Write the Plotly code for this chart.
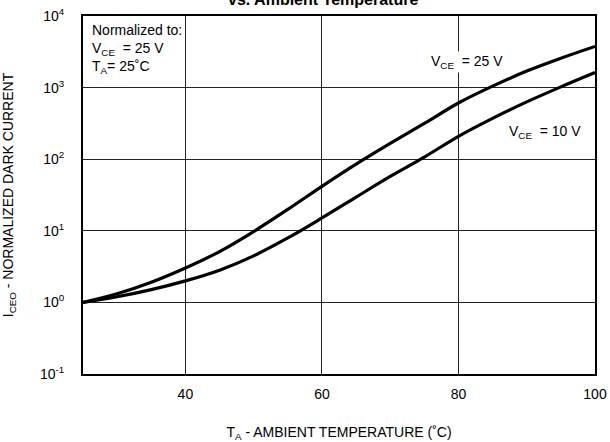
import plotly.graph_objects as go

temps = [25, 30, 35, 40, 45, 50, 55, 60, 65, 70, 75, 80, 85, 90, 95, 100]
iceo_25v = [1, 1.32, 1.91, 3.02, 5.13, 9.77, 19.9, 41.7, 85.1, 166, 316, 610, 1047, 1700, 2570, 3760]
iceo_10v = [1, 1.20, 1.51, 2.0, 2.82, 4.47, 7.94, 15.1, 29.5, 57.5, 107, 209, 372, 631, 1023, 1622]

y_tickvals = [0.1, 1, 10, 100, 1000, 10000]
y_ticktext = ["10<sup>-1</sup>", "10<sup>0</sup>", "10<sup>1</sup>", "10<sup>2</sup>", "10<sup>3</sup>", "10<sup>4</sup>"]
x_tickvals = [40, 60, 80, 100]
x_ticktext = ["40", "60", "80", "100"]

FONT = "Liberation Sans, Arial, sans-serif"

fig = go.Figure()
fig.add_trace(go.Scatter(x=temps, y=iceo_25v, mode="lines", line=dict(color="black", width=3.2, shape="spline", smoothing=1.0), showlegend=False))
fig.add_trace(go.Scatter(x=temps, y=iceo_10v, mode="lines", line=dict(color="black", width=3.2, shape="spline", smoothing=1.0), showlegend=False))

fig.update_layout(
    width=610, height=442,
    margin=dict(l=83, r=15, t=16, b=68),
    paper_bgcolor="white", plot_bgcolor="white",
    font=dict(family=FONT, size=13, color="black"),
    xaxis=dict(
        range=[25, 100], tickvals=x_tickvals, ticktext=x_ticktext,
        showgrid=True, gridcolor="#222", gridwidth=1.2,
        showline=True, linecolor="black", linewidth=2, mirror=True,
        ticks="", ticklabelstandoff=6, zeroline=False, automargin=False,
        tickfont=dict(size=14),
        title=dict(text="T<sub>A</sub> - AMBIENT TEMPERATURE (˚C)", standoff=28, font=dict(size=14)),
    ),
    yaxis=dict(
        type="log", range=[-1, 4], tickvals=y_tickvals, ticktext=y_ticktext,
        showgrid=True, gridcolor="#222", gridwidth=1.2,
        showline=True, linecolor="black", linewidth=2, mirror=True,
        ticks="", ticklabelstandoff=14, zeroline=False, automargin=False,
        tickfont=dict(size=14),
        title=dict(text="I<sub>CEO</sub> - NORMALIZED DARK CURRENT", standoff=28, font=dict(size=14)),
    ),
    annotations=[
        dict(x=0.469, y=1.016, xref="paper", yref="paper", xanchor="center", yanchor="bottom",
             text="<b>vs. Ambient Temperature</b>", showarrow=False, font=dict(size=16)),
        dict(x=26.0, y=3.95, xref="x", yref="y", xanchor="left", yanchor="top", align="left",
             text="Normalized to:<br>V<sub>CE</sub>  = 25 V<br>T<sub>A</sub>= 25˚C",
             showarrow=False, bgcolor="white", font=dict(size=14)),
        dict(x=81.2, y=3.36, xref="x", yref="y", xanchor="center", yanchor="middle",
             text="V<sub>CE</sub>  = 25 V", showarrow=False, bgcolor="white", font=dict(size=14)),
        dict(x=92.7, y=2.38, xref="x", yref="y", xanchor="center", yanchor="middle",
             text="V<sub>CE</sub>  = 10 V", showarrow=False, bgcolor="white", font=dict(size=14)),
    ],
)

fig.write_html("out.html", config={"displayModeBar": False},
               post_script="document.body.style.margin='0px';")
